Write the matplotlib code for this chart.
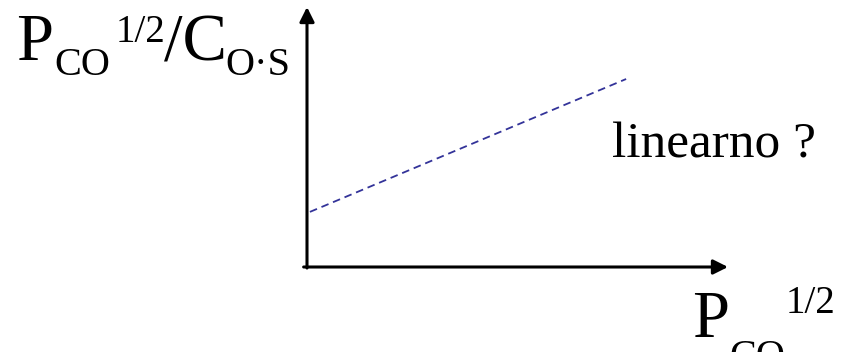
import matplotlib
matplotlib.use("Agg")
import matplotlib.pyplot as plt

W, H = 855, 352

# dashed line in axis units (origin at the axis corner, axes span 0..1)
line_x = [0.007, 0.758]
line_y = [0.212, 0.723]

y_label = ["P", "CO", "1/2", "/C", "O·S"]
x_label = ["P", "CO", "1/2"]
note = "linearno ?"

plt.rcParams["font.family"] = ["Liberation Serif", "DejaVu Serif"]
plt.rcParams["lines.scale_dashes"] = False

fig = plt.figure(figsize=(W / 100, H / 100), dpi=100)


def put(s, x, y, size):
    # x, y in pixels from top-left, y is the baseline
    fig.text(x / W, 1 - y / H, s, fontsize=size, ha="left", va="baseline")


ox, oy = 307, 267
ax = fig.add_axes([ox / W, 1 - oy / H, (728 - ox) / W, (oy - 7) / H])
ax.set_xlim(0, 1)
ax.set_ylim(0, 1)
ax.axis("off")

arrow = dict(arrowstyle="-|>", lw=2.2, color="black", mutation_scale=22,
             shrinkA=0, shrinkB=0)
ax.annotate("", xy=(1, 0), xytext=(-0.008, 0), arrowprops=arrow,
            annotation_clip=False)
ax.annotate("", xy=(0, 1), xytext=(0, -0.004), arrowprops=arrow,
            annotation_clip=False)

ax.plot(line_x, line_y, color="#333399", lw=1.3, dashes=(5.5, 3.5))

# y label
put(y_label[0], 16, 60, 48)
put(y_label[1], 54, 75, 29)
put(y_label[2], 116, 42, 28)
put(y_label[3], 164, 60, 48)
put(y_label[4], 225, 75, 29)

# x label
put(x_label[0], 692, 337, 48)
put(x_label[1], 729, 367, 29)
put(x_label[2], 786, 313, 28)

put(note, 612, 158, 37)

fig.savefig("out.png", dpi=100)
